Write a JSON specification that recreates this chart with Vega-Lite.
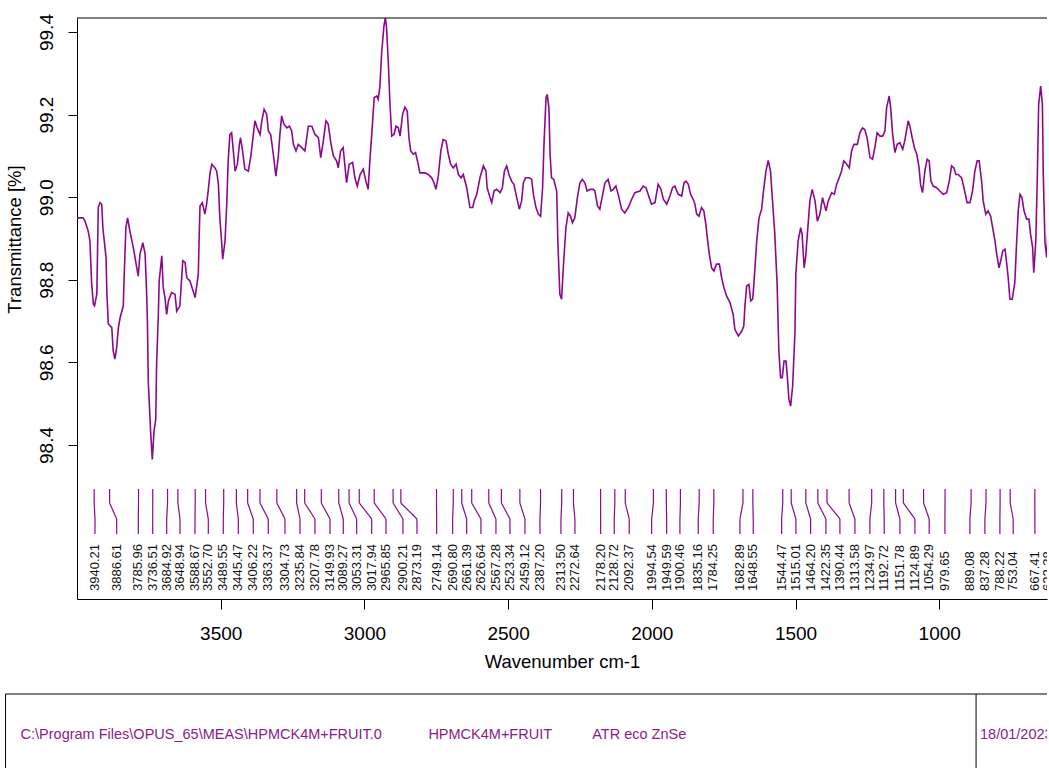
{
  "$schema": "https://vega.github.io/schema/vega-lite/v6.json",
  "padding": {"left": 5, "top": 13, "right": 0, "bottom": 0},
  "spacing": 22,
  "config": {"view": {"stroke": null}, "font": "Liberation Sans", "axis": {"grid": false}},
  "datasets": {
    "spectrum": [
      {"wn":3999,"t":98.950},{"wn":3979,"t":98.950},{"wn":3972,"t":98.942},{"wn":3961,"t":98.918},{"wn":3955,"t":98.894},{"wn":3949,"t":98.790},{"wn":3943,"t":98.741},{"wn":3939,"t":98.737},{"wn":3931,"t":98.766},{"wn":3926,"t":98.975},{"wn":3920,"t":98.987},{"wn":3914,"t":98.983},{"wn":3910,"t":98.926},{"wn":3899,"t":98.854},{"wn":3896,"t":98.766},{"wn":3891,"t":98.693},{"wn":3879,"t":98.684},{"wn":3874,"t":98.628},{"wn":3868,"t":98.608},{"wn":3862,"t":98.636},{"wn":3856,"t":98.684},{"wn":3850,"t":98.708},{"wn":3839,"t":98.737},{"wn":3836,"t":98.805},{"wn":3830,"t":98.926},{"wn":3824,"t":98.950},{"wn":3816,"t":98.918},{"wn":3804,"t":98.878},{"wn":3792,"t":98.829},{"wn":3787,"t":98.809},{"wn":3781,"t":98.862},{"wn":3771,"t":98.890},{"wn":3763,"t":98.862},{"wn":3758,"t":98.773},{"wn":3755,"t":98.700},{"wn":3752,"t":98.555},{"wn":3744,"t":98.434},{"wn":3738,"t":98.365},{"wn":3732,"t":98.434},{"wn":3726,"t":98.462},{"wn":3723,"t":98.595},{"wn":3717,"t":98.716},{"wn":3714,"t":98.797},{"wn":3705,"t":98.858},{"wn":3700,"t":98.781},{"wn":3694,"t":98.757},{"wn":3688,"t":98.716},{"wn":3682,"t":98.749},{"wn":3671,"t":98.769},{"wn":3659,"t":98.765},{"wn":3653,"t":98.724},{"wn":3642,"t":98.737},{"wn":3632,"t":98.846},{"wn":3624,"t":98.842},{"wn":3618,"t":98.805},{"wn":3607,"t":98.797},{"wn":3589,"t":98.757},{"wn":3578,"t":98.813},{"wn":3575,"t":98.902},{"wn":3572,"t":98.979},{"wn":3564,"t":98.987},{"wn":3555,"t":98.959},{"wn":3549,"t":98.983},{"wn":3543,"t":99.019},{"wn":3537,"t":99.059},{"wn":3531,"t":99.080},{"wn":3520,"t":99.071},{"wn":3514,"t":99.063},{"wn":3508,"t":99.031},{"wn":3503,"t":98.950},{"wn":3497,"t":98.894},{"wn":3493,"t":98.850},{"wn":3485,"t":98.894},{"wn":3479,"t":98.983},{"wn":3474,"t":99.088},{"wn":3468,"t":99.152},{"wn":3462,"t":99.156},{"wn":3456,"t":99.112},{"wn":3450,"t":99.063},{"wn":3442,"t":99.080},{"wn":3435,"t":99.128},{"wn":3431,"t":99.144},{"wn":3424,"t":99.112},{"wn":3416,"t":99.068},{"wn":3404,"t":99.063},{"wn":3396,"t":99.096},{"wn":3389,"t":99.136},{"wn":3381,"t":99.185},{"wn":3373,"t":99.168},{"wn":3363,"t":99.152},{"wn":3357,"t":99.185},{"wn":3349,"t":99.213},{"wn":3340,"t":99.201},{"wn":3334,"t":99.160},{"wn":3326,"t":99.152},{"wn":3317,"t":99.104},{"wn":3308,"t":99.051},{"wn":3300,"t":99.096},{"wn":3294,"t":99.152},{"wn":3288,"t":99.197},{"wn":3280,"t":99.177},{"wn":3270,"t":99.168},{"wn":3261,"t":99.172},{"wn":3253,"t":99.160},{"wn":3247,"t":99.128},{"wn":3238,"t":99.112},{"wn":3230,"t":99.128},{"wn":3218,"t":99.120},{"wn":3207,"t":99.112},{"wn":3195,"t":99.172},{"wn":3183,"t":99.172},{"wn":3172,"t":99.152},{"wn":3160,"t":99.144},{"wn":3152,"t":99.096},{"wn":3143,"t":99.136},{"wn":3134,"t":99.185},{"wn":3126,"t":99.177},{"wn":3116,"t":99.128},{"wn":3108,"t":99.100},{"wn":3097,"t":99.088},{"wn":3091,"t":99.071},{"wn":3083,"t":99.112},{"wn":3074,"t":99.120},{"wn":3062,"t":99.035},{"wn":3053,"t":99.080},{"wn":3041,"t":99.084},{"wn":3033,"t":99.047},{"wn":3025,"t":99.027},{"wn":3015,"t":99.055},{"wn":3004,"t":99.068},{"wn":2995,"t":99.039},{"wn":2987,"t":99.019},{"wn":2981,"t":99.088},{"wn":2973,"t":99.168},{"wn":2966,"t":99.241},{"wn":2957,"t":99.245},{"wn":2952,"t":99.237},{"wn":2946,"t":99.269},{"wn":2940,"t":99.350},{"wn":2932,"t":99.415},{"wn":2927,"t":99.435},{"wn":2923,"t":99.410},{"wn":2917,"t":99.330},{"wn":2911,"t":99.225},{"wn":2905,"t":99.148},{"wn":2897,"t":99.152},{"wn":2890,"t":99.172},{"wn":2882,"t":99.168},{"wn":2876,"t":99.148},{"wn":2867,"t":99.201},{"wn":2859,"t":99.218},{"wn":2851,"t":99.209},{"wn":2845,"t":99.144},{"wn":2839,"t":99.112},{"wn":2830,"t":99.104},{"wn":2822,"t":99.108},{"wn":2813,"t":99.080},{"wn":2807,"t":99.059},{"wn":2789,"t":99.059},{"wn":2778,"t":99.055},{"wn":2766,"t":99.047},{"wn":2758,"t":99.035},{"wn":2751,"t":99.019},{"wn":2743,"t":99.051},{"wn":2734,"t":99.112},{"wn":2726,"t":99.140},{"wn":2716,"t":99.136},{"wn":2708,"t":99.104},{"wn":2700,"t":99.080},{"wn":2691,"t":99.071},{"wn":2681,"t":99.080},{"wn":2673,"t":99.055},{"wn":2664,"t":99.047},{"wn":2656,"t":99.055},{"wn":2644,"t":99.023},{"wn":2633,"t":98.975},{"wn":2623,"t":98.975},{"wn":2618,"t":98.991},{"wn":2609,"t":99.007},{"wn":2598,"t":99.047},{"wn":2586,"t":99.076},{"wn":2577,"t":99.063},{"wn":2573,"t":99.023},{"wn":2563,"t":98.999},{"wn":2557,"t":98.987},{"wn":2549,"t":99.015},{"wn":2540,"t":99.019},{"wn":2528,"t":99.011},{"wn":2520,"t":99.023},{"wn":2513,"t":99.063},{"wn":2505,"t":99.076},{"wn":2497,"t":99.055},{"wn":2488,"t":99.039},{"wn":2480,"t":99.031},{"wn":2470,"t":98.999},{"wn":2461,"t":98.971},{"wn":2453,"t":98.991},{"wn":2447,"t":99.035},{"wn":2439,"t":99.047},{"wn":2426,"t":99.047},{"wn":2418,"t":99.043},{"wn":2412,"t":99.007},{"wn":2403,"t":98.975},{"wn":2395,"t":98.959},{"wn":2387,"t":98.954},{"wn":2380,"t":99.023},{"wn":2375,"t":99.132},{"wn":2368,"t":99.241},{"wn":2364,"t":99.249},{"wn":2358,"t":99.217},{"wn":2354,"t":99.104},{"wn":2349,"t":99.047},{"wn":2341,"t":99.043},{"wn":2331,"t":99.015},{"wn":2327,"t":98.894},{"wn":2320,"t":98.765},{"wn":2314,"t":98.753},{"wn":2308,"t":98.829},{"wn":2299,"t":98.926},{"wn":2291,"t":98.962},{"wn":2283,"t":98.954},{"wn":2276,"t":98.938},{"wn":2268,"t":98.950},{"wn":2259,"t":98.999},{"wn":2250,"t":99.035},{"wn":2242,"t":99.043},{"wn":2233,"t":99.035},{"wn":2225,"t":99.015},{"wn":2215,"t":99.019},{"wn":2204,"t":99.019},{"wn":2198,"t":99.015},{"wn":2189,"t":98.979},{"wn":2181,"t":98.971},{"wn":2171,"t":99.007},{"wn":2163,"t":99.035},{"wn":2152,"t":99.043},{"wn":2142,"t":99.015},{"wn":2134,"t":99.019},{"wn":2125,"t":99.027},{"wn":2117,"t":99.007},{"wn":2105,"t":98.971},{"wn":2094,"t":98.962},{"wn":2082,"t":98.975},{"wn":2070,"t":98.995},{"wn":2059,"t":99.011},{"wn":2041,"t":99.015},{"wn":2030,"t":99.027},{"wn":2020,"t":99.023},{"wn":2009,"t":98.999},{"wn":2001,"t":98.983},{"wn":1989,"t":98.987},{"wn":1978,"t":99.031},{"wn":1968,"t":99.019},{"wn":1960,"t":98.995},{"wn":1948,"t":98.983},{"wn":1937,"t":99.003},{"wn":1928,"t":99.023},{"wn":1920,"t":99.027},{"wn":1908,"t":99.007},{"wn":1896,"t":99.003},{"wn":1888,"t":99.035},{"wn":1881,"t":99.039},{"wn":1873,"t":99.031},{"wn":1865,"t":99.007},{"wn":1856,"t":98.995},{"wn":1850,"t":98.983},{"wn":1844,"t":98.959},{"wn":1836,"t":98.954},{"wn":1827,"t":98.975},{"wn":1819,"t":98.967},{"wn":1812,"t":98.934},{"wn":1807,"t":98.902},{"wn":1800,"t":98.862},{"wn":1792,"t":98.829},{"wn":1784,"t":98.821},{"wn":1775,"t":98.838},{"wn":1765,"t":98.838},{"wn":1757,"t":98.805},{"wn":1749,"t":98.781},{"wn":1740,"t":98.761},{"wn":1728,"t":98.745},{"wn":1717,"t":98.716},{"wn":1711,"t":98.680},{"wn":1699,"t":98.664},{"wn":1687,"t":98.676},{"wn":1680,"t":98.688},{"wn":1676,"t":98.737},{"wn":1670,"t":98.785},{"wn":1662,"t":98.789},{"wn":1656,"t":98.749},{"wn":1649,"t":98.753},{"wn":1645,"t":98.789},{"wn":1635,"t":98.894},{"wn":1627,"t":98.950},{"wn":1618,"t":98.971},{"wn":1612,"t":99.011},{"wn":1603,"t":99.063},{"wn":1595,"t":99.089},{"wn":1587,"t":99.063},{"wn":1580,"t":98.991},{"wn":1572,"t":98.910},{"wn":1564,"t":98.789},{"wn":1558,"t":98.628},{"wn":1552,"t":98.563},{"wn":1546,"t":98.563},{"wn":1540,"t":98.603},{"wn":1533,"t":98.603},{"wn":1529,"t":98.571},{"wn":1523,"t":98.511},{"wn":1517,"t":98.494},{"wn":1510,"t":98.543},{"wn":1502,"t":98.672},{"wn":1499,"t":98.813},{"wn":1491,"t":98.894},{"wn":1482,"t":98.926},{"wn":1477,"t":98.910},{"wn":1470,"t":98.829},{"wn":1465,"t":98.854},{"wn":1458,"t":98.918},{"wn":1450,"t":98.991},{"wn":1442,"t":99.019},{"wn":1432,"t":98.991},{"wn":1424,"t":98.942},{"wn":1415,"t":98.959},{"wn":1406,"t":98.999},{"wn":1394,"t":98.967},{"wn":1386,"t":98.991},{"wn":1374,"t":99.011},{"wn":1365,"t":99.007},{"wn":1357,"t":99.031},{"wn":1348,"t":99.047},{"wn":1340,"t":99.063},{"wn":1332,"t":99.088},{"wn":1322,"t":99.080},{"wn":1313,"t":99.071},{"wn":1305,"t":99.112},{"wn":1297,"t":99.128},{"wn":1285,"t":99.128},{"wn":1276,"t":99.156},{"wn":1267,"t":99.168},{"wn":1259,"t":99.164},{"wn":1251,"t":99.144},{"wn":1241,"t":99.096},{"wn":1232,"t":99.092},{"wn":1224,"t":99.120},{"wn":1216,"t":99.156},{"wn":1206,"t":99.148},{"wn":1197,"t":99.148},{"wn":1189,"t":99.160},{"wn":1183,"t":99.217},{"wn":1174,"t":99.245},{"wn":1169,"t":99.217},{"wn":1162,"t":99.152},{"wn":1154,"t":99.108},{"wn":1146,"t":99.128},{"wn":1137,"t":99.132},{"wn":1127,"t":99.116},{"wn":1119,"t":99.140},{"wn":1108,"t":99.185},{"wn":1102,"t":99.172},{"wn":1094,"t":99.144},{"wn":1085,"t":99.116},{"wn":1078,"t":99.104},{"wn":1070,"t":99.071},{"wn":1065,"t":99.031},{"wn":1058,"t":99.011},{"wn":1050,"t":99.063},{"wn":1042,"t":99.092},{"wn":1035,"t":99.088},{"wn":1029,"t":99.039},{"wn":1021,"t":99.027},{"wn":1009,"t":99.023},{"wn":998,"t":99.015},{"wn":986,"t":99.007},{"wn":974,"t":99.011},{"wn":965,"t":99.039},{"wn":957,"t":99.076},{"wn":949,"t":99.071},{"wn":942,"t":99.055},{"wn":934,"t":99.055},{"wn":922,"t":99.047},{"wn":914,"t":99.023},{"wn":903,"t":98.987},{"wn":893,"t":98.987},{"wn":884,"t":99.015},{"wn":876,"t":99.063},{"wn":868,"t":99.088},{"wn":861,"t":99.088},{"wn":852,"t":99.035},{"wn":847,"t":98.991},{"wn":838,"t":98.959},{"wn":830,"t":98.967},{"wn":821,"t":98.954},{"wn":814,"t":98.926},{"wn":806,"t":98.894},{"wn":800,"t":98.862},{"wn":792,"t":98.829},{"wn":786,"t":98.846},{"wn":779,"t":98.870},{"wn":771,"t":98.874},{"wn":765,"t":98.838},{"wn":760,"t":98.805},{"wn":754,"t":98.753},{"wn":746,"t":98.753},{"wn":737,"t":98.793},{"wn":731,"t":98.886},{"wn":725,"t":98.967},{"wn":719,"t":99.007},{"wn":712,"t":98.999},{"wn":705,"t":98.967},{"wn":696,"t":98.947},{"wn":688,"t":98.947},{"wn":682,"t":98.910},{"wn":675,"t":98.878},{"wn":671,"t":98.817},{"wn":664,"t":98.894},{"wn":659,"t":99.039},{"wn":654,"t":99.225},{"wn":647,"t":99.269},{"wn":641,"t":99.225},{"wn":638,"t":99.055},{"wn":632,"t":98.890},{"wn":626,"t":98.854},{"wn":620,"t":98.950},{"wn":614,"t":98.950}
    ],
    "peaks": [
      {"wn":3940.21,"lx":3937.4},{"wn":3886.61,"lx":3861.9},{"wn":3785.96,"lx":3786.7},{"wn":3736.51,"lx":3736.6},{"wn":3684.92,"lx":3687.9},{"wn":3648.94,"lx":3641.7},{"wn":3588.67,"lx":3589.5},{"wn":3552.70,"lx":3543.2},{"wn":3489.55,"lx":3491.0},{"wn":3445.47,"lx":3438.8},{"wn":3406.22,"lx":3386.7},{"wn":3363.37,"lx":3334.5},{"wn":3304.73,"lx":3276.4},{"wn":3235.84,"lx":3224.2},{"wn":3207.78,"lx":3172.0},{"wn":3149.93,"lx":3119.8},{"wn":3089.27,"lx":3073.5},{"wn":3053.31,"lx":3026.9},{"wn":3017.94,"lx":2974.7},{"wn":2965.85,"lx":2925.0},{"wn":2900.21,"lx":2865.8},{"wn":2873.19,"lx":2817.1},{"wn":2749.14,"lx":2748.6},{"wn":2690.80,"lx":2693.0},{"wn":2661.39,"lx":2644.2},{"wn":2626.64,"lx":2594.5},{"wn":2567.28,"lx":2542.3},{"wn":2523.34,"lx":2493.6},{"wn":2459.12,"lx":2441.4},{"wn":2387.20,"lx":2389.2},{"wn":2313.50,"lx":2316.2},{"wn":2272.64,"lx":2267.5},{"wn":2178.20,"lx":2178.1},{"wn":2128.72,"lx":2130.7},{"wn":2092.37,"lx":2078.6},{"wn":1994.54,"lx":2000.6},{"wn":1949.59,"lx":1948.4},{"wn":1900.46,"lx":1902.2},{"wn":1835.16,"lx":1838.5},{"wn":1784.25,"lx":1786.3},{"wn":1682.89,"lx":1693.4},{"wn":1648.55,"lx":1647.1},{"wn":1544.47,"lx":1548.3},{"wn":1515.01,"lx":1498.6},{"wn":1464.20,"lx":1447.5},{"wn":1422.35,"lx":1394.2},{"wn":1390.44,"lx":1345.5},{"wn":1313.58,"lx":1293.3},{"wn":1234.97,"lx":1241.2},{"wn":1192.72,"lx":1191.4},{"wn":1151.78,"lx":1136.8},{"wn":1124.89,"lx":1084.6},{"wn":1054.29,"lx":1034.9},{"wn":979.65,"lx":980.2},{"wn":889.08,"lx":893.3},{"wn":837.28,"lx":841.1},{"wn":788.22,"lx":788.9},{"wn":753.04,"lx":742.6},{"wn":667.41,"lx":667.1},{"wn":622.38,"lx":621.9}
    ],
    "footer": [
      {"pos":1.44,"txt":"C:\\Program Files\\OPUS_65\\MEAS\\HPMCK4M+FRUIT.0"},
      {"pos":40.6,"txt":"HPMCK4M+FRUIT"},
      {"pos":56.33,"txt":"ATR eco ZnSe"}
    ],
    "footerdate": [
      {"pos":93.57,"txt":"18/01/2023"}
    ]
  },
  "vconcat": [
    {
      "width": 970,
      "height": 581,
      "layer": [
        {
          "data": {"name": "spectrum"},
          "mark": {"type": "line", "color": "#8b0a8b", "strokeWidth": 1.6, "clip": true},
          "encoding": {
            "x": {"field": "wn", "type": "quantitative",
                  "scale": {"domain": [625, 4000], "reverse": true, "nice": false, "zero": false},
                  "axis": {"values": [3500, 3000, 2500, 2000, 1500, 1000], "format": "d", "tickSize": 10, "labelPadding": 15,
                           "labelFontSize": 19, "labelColor": "#000000", "tickColor": "#000000", "domainColor": "#000000",
                           "title": "Wavenumber cm-1", "titleFontSize": 18.5, "titleFontWeight": "normal", "titleColor": "#000000",
                           "titlePadding": 9}},
            "y": {"field": "t", "type": "quantitative",
                  "scale": {"domain": [98.027, 99.434], "nice": false, "zero": false},
                  "axis": {"values": [98.4, 98.6, 98.8, 99.0, 99.2, 99.4], "format": ".1f", "tickSize": 9,
                           "labelAngle": 270, "labelAlign": "center", "labelBaseline": "alphabetic", "labelPadding": 16,
                           "labelFontSize": 19, "labelColor": "#000000", "tickColor": "#000000", "domainColor": "#000000",
                           "title": "Transmittance [%]", "titleFontSize": 18.5, "titleFontWeight": "normal", "titleColor": "#000000",
                           "titleAngle": 270, "titleAlign": "center", "titleBaseline": "alphabetic", "titleX": -57, "titleY": 221}}
          }
        },
        {
          "data": {"values": [{}]},
          "mark": {"type": "rule", "color": "#000000", "strokeWidth": 1},
          "encoding": {"y": {"datum": 99.434, "type": "quantitative"}}
        },
        {
          "data": {"name": "peaks"},
          "mark": {"type": "rule", "color": "#8b0a8b", "strokeWidth": 1.2, "clip": true},
          "encoding": {
            "x": {"field": "wn", "type": "quantitative"},
            "y": {"datum": 98.2935, "type": "quantitative"},
            "y2": {"datum": 98.2596}
          }
        },
        {
          "data": {"name": "peaks"},
          "mark": {"type": "rule", "color": "#8b0a8b", "strokeWidth": 1.2, "clip": true},
          "encoding": {
            "x": {"field": "wn", "type": "quantitative"},
            "x2": {"field": "lx"},
            "y": {"datum": 98.2596, "type": "quantitative"},
            "y2": {"datum": 98.2208}
          }
        },
        {
          "data": {"name": "peaks"},
          "mark": {"type": "rule", "color": "#8b0a8b", "strokeWidth": 1.2, "clip": true},
          "encoding": {
            "x": {"field": "lx", "type": "quantitative"},
            "y": {"datum": 98.2208, "type": "quantitative"},
            "y2": {"datum": 98.1845}
          }
        },
        {
          "data": {"name": "peaks"},
          "mark": {"type": "text", "angle": 270, "align": "left", "baseline": "middle", "fontSize": 13, "color": "#111111", "clip": true},
          "encoding": {
            "x": {"field": "lx", "type": "quantitative"},
            "y": {"datum": 98.0465, "type": "quantitative"},
            "text": {"field": "wn", "type": "quantitative", "format": ".2f"}
          }
        }
      ]
    },
    {
      "width": 970,
      "height": 74,
      "layer": [
        {
          "data": {"values": [{}]},
          "mark": {"type": "rule", "color": "#000000", "strokeWidth": 1},
          "encoding": {
            "x": {"datum": 0, "type": "quantitative", "scale": {"domain": [6.86, 100], "nice": false, "zero": false}, "axis": null},
            "x2": {"datum": 100},
            "y": {"datum": 1, "type": "quantitative", "scale": {"domain": [0, 1], "nice": false, "zero": false}, "axis": null}
          }
        },
        {
          "data": {"values": [{}]},
          "mark": {"type": "rule", "color": "#000000", "strokeWidth": 1},
          "encoding": {"x": {"datum": 0, "type": "quantitative", "axis": null}}
        },
        {
          "data": {"values": [{}]},
          "mark": {"type": "rule", "color": "#000000", "strokeWidth": 1},
          "encoding": {"x": {"datum": 93.19, "type": "quantitative", "axis": null}}
        },
        {
          "data": {"name": "footer"},
          "mark": {"type": "text", "align": "left", "baseline": "middle", "fontSize": 14.5, "color": "#8b1a8b"},
          "encoding": {
            "x": {"field": "pos", "type": "quantitative", "axis": null},
            "y": {"datum": 0.45, "type": "quantitative", "axis": null},
            "text": {"field": "txt", "type": "nominal"}
          }
        },
        {
          "data": {"name": "footerdate"},
          "mark": {"type": "text", "align": "left", "baseline": "middle", "fontSize": 14.5, "color": "#8b1a8b", "clip": true},
          "encoding": {
            "x": {"field": "pos", "type": "quantitative", "axis": null},
            "y": {"datum": 0.45, "type": "quantitative", "axis": null},
            "text": {"field": "txt", "type": "nominal"}
          }
        }
      ]
    }
  ]
}
